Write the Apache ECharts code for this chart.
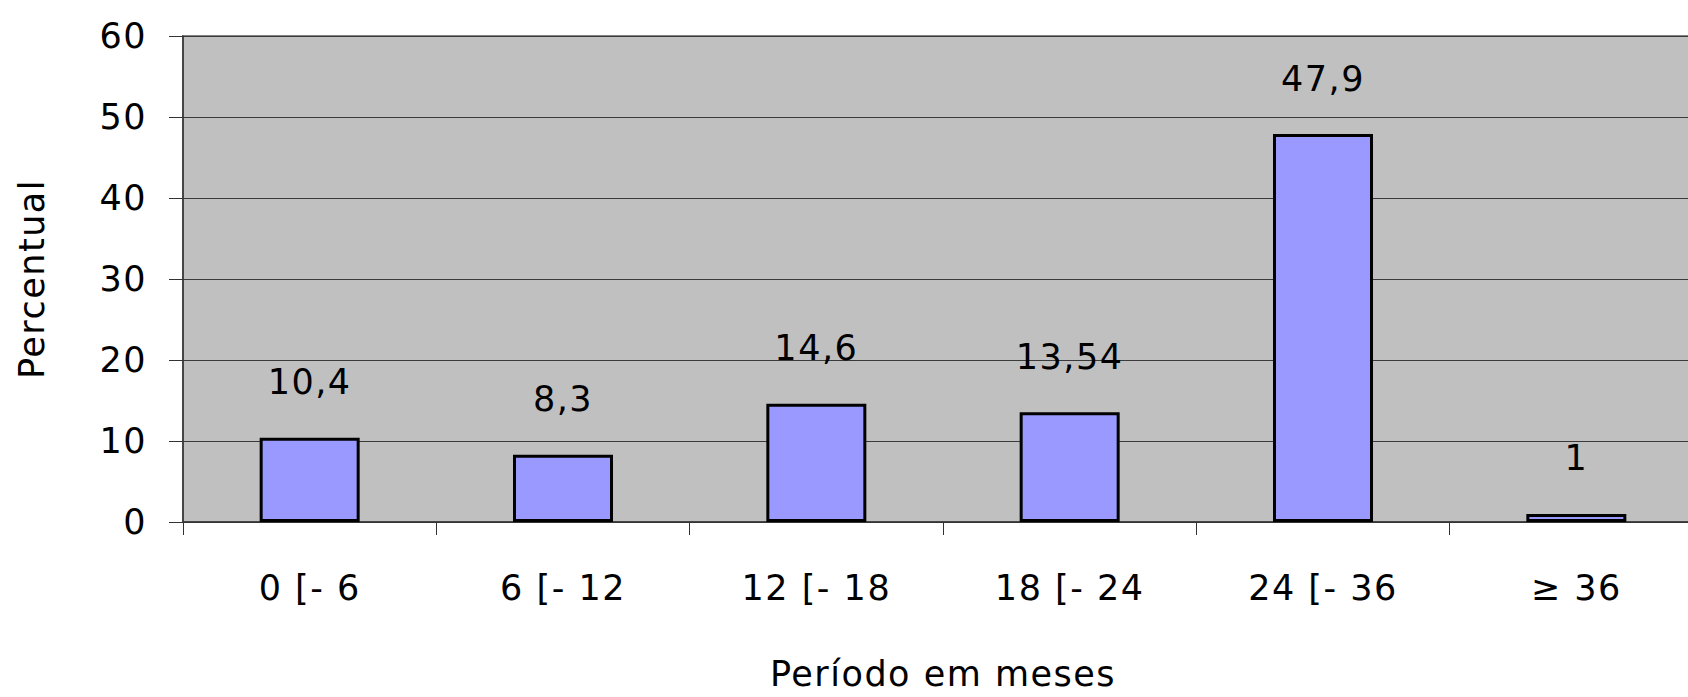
<!DOCTYPE html>
<html>
<head>
<meta charset="utf-8">
<script src="https://cdn.jsdelivr.net/npm/echarts@6/dist/echarts.min.js"></script>
<style>
  html, body { margin: 0; padding: 0; background: #fff; }
  #chart { width: 1688px; height: 697px; }
  /* o texto do original é um pouco mais espaçado */
  #chart text { letter-spacing: 1.5px; }
</style>
</head>
<body>
<div id="chart"></div>
<script>
// dados do gráfico
const periodos = ["0 [- 6", "6 [- 12", "12 [- 18", "18 [- 24", "24 [- 36", "\u2265 36"];
const percentuais = [10.4, 8.3, 14.6, 13.54, 47.9, 1];
const rotulos = ["10,4", "8,3", "14,6", "13,54", "47,9", "1"];

const myChart = echarts.init(document.getElementById("chart"), null, { renderer: "svg" });
const fonte = "DejaVu Sans";

const option = {
  animation: false,
  grid: {
    left: 183,
    top: 36,
    right: -15,
    bottom: 175,
    outerBoundsMode: "none",
    containLabel: false,
    show: true,
    backgroundColor: "#c0c0c0",
    borderColor: "#808080",
    borderWidth: 2,
  },
  xAxis: {
    type: "category",
    data: periodos,
    name: "Período em meses",
    nameLocation: "middle",
    nameGap: 134,
    nameTextStyle: { fontFamily: fonte, fontSize: 35, lineHeight: 36, color: "#000" },
    axisLine: { lineStyle: { color: "#333", width: 1.5 } },
    axisTick: { show: true, length: 13, lineStyle: { color: "#333" } },
    axisLabel: { fontFamily: fonte, fontSize: 35, color: "#000", margin: 48 },
  },
  yAxis: {
    type: "value",
    min: 0,
    max: 60,
    interval: 10,
    name: "Percentual",
    nameLocation: "middle",
    nameGap: 134,
    nameTextStyle: { fontFamily: fonte, fontSize: 35, color: "#000" },
    axisLine: { show: true, lineStyle: { color: "#333", width: 1.5 } },
    axisTick: { show: true, length: 14, lineStyle: { color: "#333" } },
    axisLabel: { fontFamily: fonte, fontSize: 35, color: "#000", margin: 36 },
    splitLine: { lineStyle: { color: "#3a3a3a", width: 1.2 } },
  },
  series: [
    {
      type: "bar",
      data: percentuais,
      barWidth: 100,
      itemStyle: { color: "#9999ff", borderColor: "#000", borderWidth: 3 },
      label: {
        show: true,
        position: "top",
        distance: 38,
        fontFamily: fonte,
        fontSize: 35,
        color: "#000",
        formatter: (p) => rotulos[p.dataIndex],
      },
    },
  ],
};

myChart.setOption(option);
</script>
</body>
</html>
